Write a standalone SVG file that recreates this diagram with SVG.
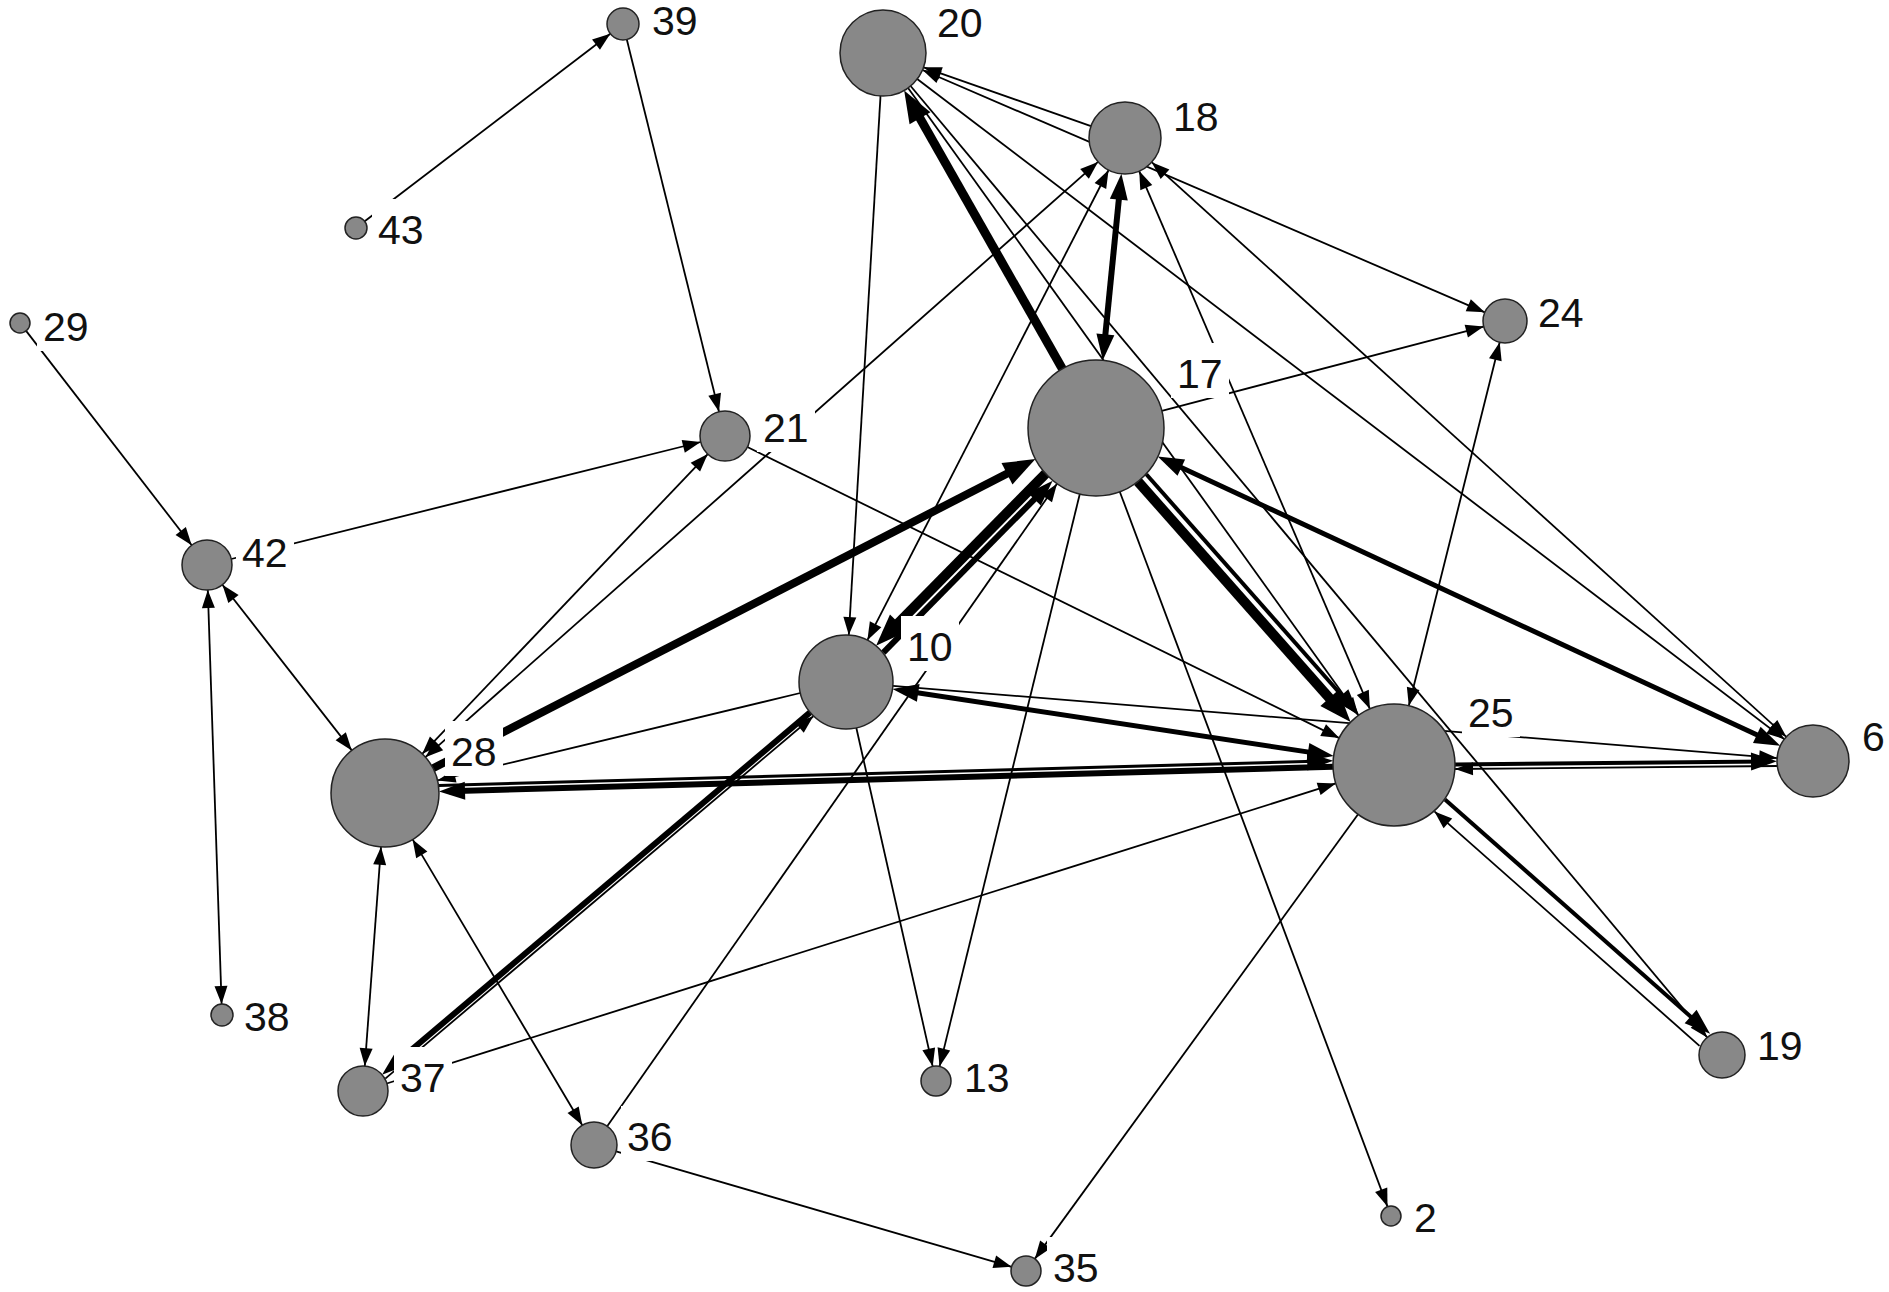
<svg xmlns="http://www.w3.org/2000/svg" width="1889" height="1292" viewBox="0 0 1889 1292">
<style>
.e{stroke:#000;fill:none;stroke-width:1.8}
.w3{stroke-width:3}.w4{stroke-width:4}.w5{stroke-width:5}.w6{stroke-width:6}.w8{stroke-width:8}.w9{stroke-width:9}.w10{stroke-width:10}
.n{fill:#888;stroke:#222;stroke-width:1.5}
.lb{fill:#fff}
.t{font-family:"Liberation Sans",Arial,sans-serif;font-size:41px;fill:#111}
</style>
<defs>
<marker id="at" markerUnits="userSpaceOnUse" markerWidth="18" markerHeight="13" refX="18" refY="6.5" orient="auto-start-reverse" overflow="visible"><path d="M0,0 L18,6.5 L0,13 z" fill="#000"/></marker>
<marker id="am" markerUnits="userSpaceOnUse" markerWidth="26" markerHeight="18" refX="16" refY="9" orient="auto-start-reverse" overflow="visible"><path d="M0,0 L26,9 L0,18 z" fill="#000"/></marker>
<marker id="ab" markerUnits="userSpaceOnUse" markerWidth="32" markerHeight="24" refX="18" refY="12" orient="auto-start-reverse" overflow="visible"><path d="M0,0 L32,12 L0,24 z" fill="#000"/></marker>
</defs>
<rect width="1889" height="1292" fill="#fff"/>
<g id="edges">
<line class="e" x1="364.7" y1="221.3" x2="610.3" y2="33.7" marker-end="url(#at)"/>
<line class="e" x1="626.8" y1="39.5" x2="719.0" y2="411.7" marker-end="url(#at)"/>
<line class="e" x1="26.1" y1="330.9" x2="191.7" y2="545.2" marker-end="url(#at)"/>
<line class="e" x1="231.3" y1="559.0" x2="700.7" y2="442.0" marker-end="url(#at)"/>
<line class="e" x1="207.8" y1="590.0" x2="221.6" y2="1004.0" marker-start="url(#at)" marker-end="url(#at)"/>
<line class="e" x1="222.4" y1="584.7" x2="351.8" y2="750.4" marker-start="url(#at)" marker-end="url(#at)"/>
<line class="e" x1="422.2" y1="753.9" x2="707.8" y2="454.1" marker-start="url(#at)" marker-end="url(#at)"/>
<line class="e" x1="425.4" y1="757.2" x2="1098.0" y2="161.9" marker-start="url(#at)" marker-end="url(#at)"/>
<line class="e w8" x1="433.0" y1="768.3" x2="1023.0" y2="465.5" marker-end="url(#ab)"/>
<line class="e" x1="800.3" y1="693.0" x2="437.5" y2="780.4" marker-end="url(#at)"/>
<line class="e w6" x1="1333.0" y1="766.7" x2="449.0" y2="791.2" marker-end="url(#am)"/>
<line class="e w3" x1="438.8" y1="785.5" x2="1323.2" y2="761.0" marker-end="url(#am)"/>
<line class="e" x1="381.0" y1="846.9" x2="364.8" y2="1066.1" marker-start="url(#at)" marker-end="url(#at)"/>
<line class="e" x1="412.6" y1="839.4" x2="582.3" y2="1125.2" marker-start="url(#at)" marker-end="url(#at)"/>
<line class="e w6" x1="810.1" y1="712.4" x2="389.7" y2="1068.3" marker-end="url(#am)"/>
<line class="e" x1="385.3" y1="1078.6" x2="813.3" y2="716.2" marker-end="url(#at)"/>
<line class="e" x1="607.2" y1="1126.2" x2="1057.0" y2="483.7" marker-end="url(#at)"/>
<line class="e w10" x1="1045.5" y1="473.7" x2="885.9" y2="635.7" marker-end="url(#ab)"/>
<line class="e w6" x1="883.3" y1="652.7" x2="1045.6" y2="487.8" marker-end="url(#am)"/>
<line class="e" x1="880.5" y1="95.9" x2="848.8" y2="635.1" marker-end="url(#at)"/>
<line class="e w9" x1="1062.4" y1="368.9" x2="911.1" y2="102.6" marker-end="url(#ab)"/>
<line class="e w6" x1="1103.8" y1="350.3" x2="1120.4" y2="183.8" marker-start="url(#am)" marker-end="url(#am)"/>
<line class="e" x1="1091.0" y1="126.1" x2="923.6" y2="67.3" marker-end="url(#at)"/>
<line class="e" x1="922.5" y1="70.0" x2="1484.8" y2="312.3" marker-start="url(#at)" marker-end="url(#at)"/>
<line class="e" x1="1151.7" y1="162.2" x2="1786.3" y2="736.8" marker-start="url(#at)" marker-end="url(#at)"/>
<line class="e" x1="917.2" y1="79.0" x2="1784.4" y2="739.2" marker-end="url(#at)"/>
<line class="e" x1="910.6" y1="86.0" x2="1707.2" y2="1037.4" marker-end="url(#at)"/>
<line class="e" x1="867.4" y1="640.2" x2="1108.6" y2="170.0" marker-start="url(#at)" marker-end="url(#at)"/>
<line class="e" x1="1369.9" y1="708.9" x2="1139.2" y2="171.1" marker-start="url(#at)" marker-end="url(#at)"/>
<line class="e" x1="1161.8" y1="410.8" x2="1483.7" y2="326.6" marker-end="url(#at)"/>
<line class="e" x1="1408.8" y1="705.8" x2="1499.7" y2="342.3" marker-start="url(#at)" marker-end="url(#at)"/>
<line class="e" x1="1079.8" y1="494.0" x2="939.6" y2="1066.4" marker-end="url(#at)"/>
<line class="e" x1="856.3" y1="727.8" x2="932.7" y2="1066.4" marker-end="url(#at)"/>
<line class="e" x1="1119.8" y1="491.7" x2="1387.5" y2="1206.6" marker-end="url(#at)"/>
<line class="e w10" x1="1138.0" y1="481.6" x2="1341.3" y2="711.5" marker-end="url(#ab)"/>
<line class="e w4" x1="1146.3" y1="474.3" x2="1352.2" y2="707.2" marker-end="url(#am)"/>
<line class="e w5" x1="1166.8" y1="460.8" x2="1771.3" y2="741.6" marker-start="url(#am)" marker-end="url(#am)"/>
<line class="e w5" x1="902.4" y1="690.5" x2="1323.8" y2="754.4" marker-start="url(#am)" marker-end="url(#am)"/>
<line class="e" x1="892.8" y1="685.8" x2="1777.1" y2="758.1" marker-end="url(#at)"/>
<line class="e" x1="747.4" y1="447.0" x2="1339.3" y2="738.1" marker-end="url(#at)"/>
<line class="e" x1="386.8" y1="1083.5" x2="1335.8" y2="783.4" marker-end="url(#at)"/>
<line class="e w4" x1="1455.0" y1="764.4" x2="1767.0" y2="761.4" marker-end="url(#am)"/>
<line class="e" x1="1777.1" y1="766.0" x2="1455.0" y2="769.0" marker-end="url(#at)"/>
<line class="e w4" x1="1445.0" y1="799.4" x2="1702.6" y2="1027.2" marker-end="url(#am)"/>
<line class="e" x1="1699.5" y1="1045.8" x2="1434.4" y2="811.4" marker-end="url(#at)"/>
<line class="e" x1="1358.1" y1="814.3" x2="1034.8" y2="1258.9" marker-end="url(#at)"/>
<line class="e" x1="616.1" y1="1151.4" x2="1011.6" y2="1266.8" marker-end="url(#at)"/>
<line class="e" x1="908.1" y1="87.9" x2="1358.4" y2="715.4" marker-end="url(#at)"/>
</g>
<g id="node-39"><circle class="n" cx="623" cy="24" r="16"/><rect class="lb" x="646" y="-10" width="58" height="55"/><text class="t" x="652" y="35">39</text></g>
<g id="node-20"><circle class="n" cx="883" cy="53" r="43"/><rect class="lb" x="931" y="-8" width="58" height="55"/><text class="t" x="937" y="37">20</text></g>
<g id="node-18"><circle class="n" cx="1125" cy="138" r="36"/><rect class="lb" x="1167" y="86" width="58" height="55"/><text class="t" x="1173" y="131">18</text></g>
<g id="node-43"><circle class="n" cx="356" cy="228" r="11"/><rect class="lb" x="372" y="199" width="58" height="55"/><text class="t" x="378" y="244">43</text></g>
<g id="node-29"><circle class="n" cx="20" cy="323" r="10"/><rect class="lb" x="37" y="296" width="58" height="55"/><text class="t" x="43" y="341">29</text></g>
<g id="node-24"><circle class="n" cx="1505" cy="321" r="22"/><rect class="lb" x="1532" y="282" width="58" height="55"/><text class="t" x="1538" y="327">24</text></g>
<g id="node-17"><circle class="n" cx="1096" cy="428" r="68"/><rect class="lb" x="1171" y="343" width="58" height="55"/><text class="t" x="1177" y="388">17</text></g>
<g id="node-21"><circle class="n" cx="725" cy="436" r="25"/><rect class="lb" x="757" y="397" width="58" height="55"/><text class="t" x="763" y="442">21</text></g>
<g id="node-42"><circle class="n" cx="207" cy="565" r="25"/><rect class="lb" x="236" y="522" width="58" height="55"/><text class="t" x="242" y="567">42</text></g>
<g id="node-10"><circle class="n" cx="846" cy="682" r="47"/><rect class="lb" x="901" y="616" width="58" height="55"/><text class="t" x="907" y="661">10</text></g>
<g id="node-28"><circle class="n" cx="385" cy="793" r="54"/><rect class="lb" x="445" y="721" width="58" height="55"/><text class="t" x="451" y="766">28</text></g>
<g id="node-25"><circle class="n" cx="1394" cy="765" r="61"/><rect class="lb" x="1462" y="682" width="58" height="55"/><text class="t" x="1468" y="727">25</text></g>
<g id="node-6"><circle class="n" cx="1813" cy="761" r="36"/><rect class="lb" x="1856" y="706" width="35" height="55"/><text class="t" x="1862" y="751">6</text></g>
<g id="node-38"><circle class="n" cx="222" cy="1015" r="11"/><rect class="lb" x="238" y="986" width="58" height="55"/><text class="t" x="244" y="1031">38</text></g>
<g id="node-37"><circle class="n" cx="363" cy="1091" r="25"/><rect class="lb" x="394" y="1047" width="58" height="55"/><text class="t" x="400" y="1092">37</text></g>
<g id="node-13"><circle class="n" cx="936" cy="1081" r="15"/><rect class="lb" x="958" y="1047" width="58" height="55"/><text class="t" x="964" y="1092">13</text></g>
<g id="node-19"><circle class="n" cx="1722" cy="1055" r="23"/><rect class="lb" x="1751" y="1015" width="58" height="55"/><text class="t" x="1757" y="1060">19</text></g>
<g id="node-36"><circle class="n" cx="594" cy="1145" r="23"/><rect class="lb" x="621" y="1106" width="58" height="55"/><text class="t" x="627" y="1151">36</text></g>
<g id="node-2"><circle class="n" cx="1391" cy="1216" r="10"/><rect class="lb" x="1408" y="1187" width="35" height="55"/><text class="t" x="1414" y="1232">2</text></g>
<g id="node-35"><circle class="n" cx="1026" cy="1271" r="15"/><rect class="lb" x="1047" y="1237" width="58" height="55"/><text class="t" x="1053" y="1282">35</text></g>
</svg>
